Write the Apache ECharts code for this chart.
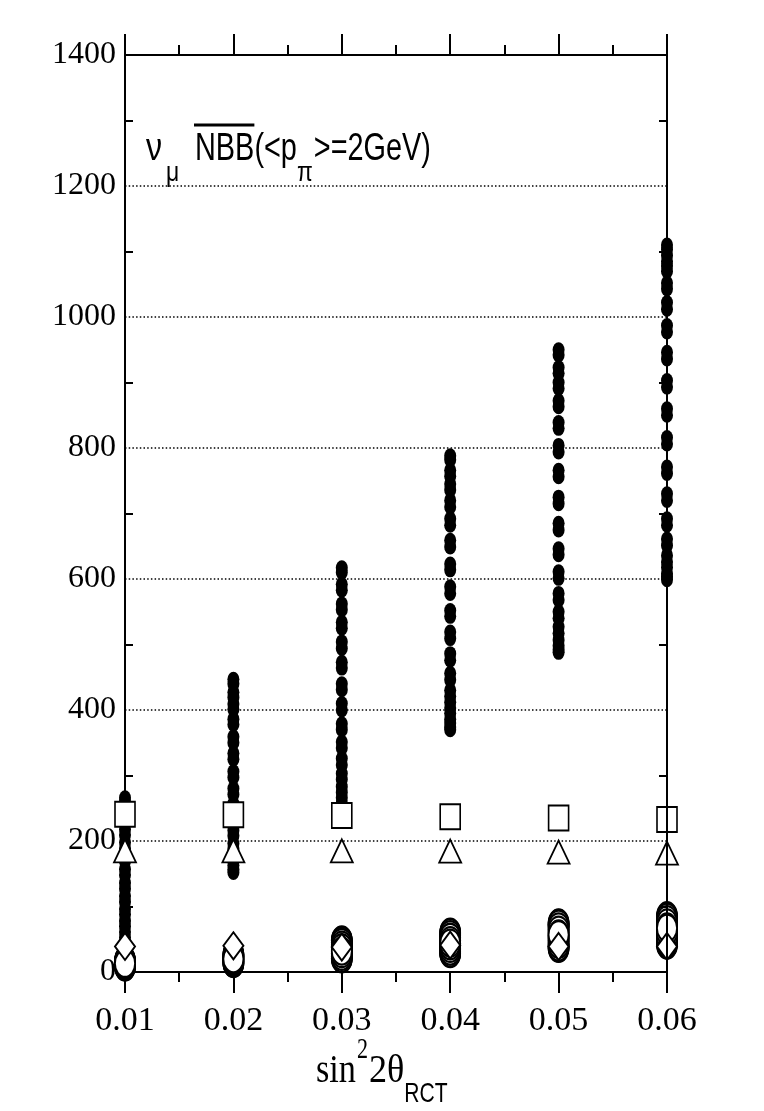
<!DOCTYPE html>
<html><head><meta charset="utf-8">
<script src="https://cdn.jsdelivr.net/npm/echarts@6/dist/echarts.min.js"></script>
<style>html,body{margin:0;padding:0;background:#fff}#c{width:764px;height:1111px}</style>
</head><body><div id="c"></div>
<script>
// ---- data ----
const xValues = [0.01, 0.02, 0.03, 0.04, 0.05, 0.06];
const yTickValues = [0, 200, 400, 600, 800, 1000, 1200, 1400];

// filled black dots, one list per sin^2 2theta column
const filled001 = [266, 260, 252, 245, 236, 228, 218, 209, 198, 189, 178, 169, 157, 148, 136, 127, 116, 107, 96, 88, 78, 70, 61, 53, 45, 38, 31, 25, 20, 15, 11, 8, 6, 5];
const filled002 = [447, 440, 427, 419, 409, 401, 386, 378, 359, 350, 334, 325, 306, 297, 280, 271, 257, 248, 236, 228, 216, 208, 196, 188, 177, 170, 163, 157, 152];
const filled003 = [617, 610, 592, 583, 562, 553, 534, 525, 504, 494, 473, 464, 440, 431, 410, 400, 379, 370, 351, 342, 326, 316, 303, 294, 283, 274, 266, 258, 254, 250];
const filled004 = [788, 782, 766, 757, 745, 736, 720, 710, 692, 682, 659, 649, 623, 614, 588, 578, 552, 543, 519, 509, 486, 476, 456, 446, 430, 421, 412, 403, 395, 386, 380, 374, 370];
const filled005 = [950, 942, 923, 914, 900, 891, 872, 863, 839, 830, 804, 794, 766, 756, 725, 715, 685, 675, 646, 637, 611, 601, 578, 568, 550, 540, 527, 517, 507, 498, 492, 488];
const filled006 = [1110, 1103, 1094, 1085, 1078, 1070, 1052, 1043, 1022, 1012, 987, 977, 946, 936, 903, 893, 860, 850, 816, 806, 771, 761, 730, 720, 692, 682, 661, 651, 636, 626, 618, 608, 604, 599];

// open circles (stacked), in scan order
const open001 = [13, 14, 16, 17, 18, 18, 17, 15, 13, 11, 9, 8, 8, 9, 10, 12, 13];
const open002 = [20, 22, 24, 26, 27, 27, 25, 23, 20, 17, 15, 13, 13, 14, 16, 18, 20];
const open003 = [34, 38, 42, 45, 48, 49, 48, 45, 41, 37, 32, 28, 24, 21, 20, 21, 24, 28, 32];
const open004 = [44, 48, 52, 56, 59, 61, 60, 57, 53, 48, 43, 38, 34, 31, 29, 28, 29, 32, 36, 40, 44];
const open005 = [55, 60, 65, 69, 72, 74, 75, 73, 69, 64, 58, 52, 47, 42, 39, 37, 36, 38, 42, 47, 52, 57];
const open006 = [63, 68, 73, 78, 82, 85, 86, 84, 80, 75, 69, 62, 56, 50, 46, 43, 41, 42, 45, 50, 55, 61, 67];

// single markers per column
const squares = [241, 240, 239, 237, 235, 233];
const triangles = [185, 185, 185, 184.5, 183, 181.5];
const diamonds = [39, 40, 38, 41, 39, 39];

// ---- build ----
function columns(cols) {
  const out = [];
  cols.forEach((col, i) => col.forEach(v => out.push([xValues[i], v])));
  return out;
}
const filledData = columns([filled001, filled002, filled003, filled004, filled005, filled006]);
const openData = columns([open001, open002, open003, open004, open005, open006]);
const pair = arr => arr.map((v, i) => [xValues[i], v]);

const chart = echarts.init(document.getElementById('c'), null, {renderer: 'canvas'});

const axisLineStyle = {color: '#000', width: 2};
const xTick = {show: true, inside: false, length: 21, lineStyle: {color: '#000', width: 2}};
const xMinor = {show: true, splitNumber: 2, length: 10, lineStyle: {color: '#000', width: 2}};
const yMinor = {show: true, splitNumber: 2, length: 8, lineStyle: {color: '#000', width: 2}};

const mctx = document.createElement('canvas').getContext('2d');
function tw(text, size, family, sx) {
  mctx.font = size + 'px ' + family;
  return mctx.measureText(text).width * sx;
}
const SANS = '"Liberation Sans"';
const SERIF = '"Liberation Serif"';
function txt(text, x, y, size, family, sx, sy) {
  return {
    type: 'text', x: x, y: y, scaleX: sx, scaleY: sy || 1, silent: true, z: 20,
    style: {text: text, fontSize: size, fontFamily: family, fill: '#000',
      align: 'left', verticalAlign: 'middle', textAlign: 'left', textVerticalAlign: 'middle'}
  };
}

// title: nu_mu  NBB-bar(<p_pi>=2GeV)
const TS = 38, TSX = 0.76, SS = 27, SSX = 0.85;
const g = [];
g.push(txt('ν', 146, 150, TS, SANS, 0.85));
g.push(txt('μ', 166, 174, SS, SANS, SSX));
let tx = 195;
g.push(txt('NBB(<p', tx, 150, TS, SANS, TSX));
const nbbW = tw('NBB', TS, SANS, TSX);
g.push({type: 'line', silent: true, z: 20, shape: {x1: tx - 1, y1: 125, x2: tx + nbbW, y2: 125}, style: {stroke: '#000', lineWidth: 3}});
tx += tw('NBB(<p', TS, SANS, TSX);
g.push(txt('π', tx, 174, SS, SANS, SSX));
tx += tw('π', SS, SANS, SSX) + 1;
g.push(txt('>=2GeV)', tx, 150, TS, SANS, TSX));

// x axis title: sin^2 2theta_RCT
let ax = 316;
const AS = 38;
g.push(txt('sin', ax, 1072, AS, SERIF, 0.9, 1.05));
ax += tw('sin', AS, SERIF, 0.9) + 1;
g.push(txt('2', ax, 1050, 26, SERIF, 0.85, 1.1));
ax += tw('2', 26, SERIF, 0.85) + 1;
g.push(txt('2θ', ax, 1072, AS, SERIF, 0.95, 1.05));
ax += tw('2θ', AS, SERIF, 0.95);
g.push(txt('RCT', ax, 1094, 27, SANS, 0.78, 1.05));

const option = {
  animation: false,
  backgroundColor: '#fff',
  grid: {left: 125, right: 97, top: 55, bottom: 139, containLabel: false},
  xAxis: [
    {type: 'value', position: 'bottom', min: 0.01, max: 0.06, interval: 0.01,
      axisLine: {show: true, onZero: false, lineStyle: axisLineStyle},
      axisTick: xTick, minorTick: xMinor,
      axisLabel: {show: true, margin: 32, fontSize: 34, fontFamily: SERIF, color: '#000',
        formatter: v => Number(v).toFixed(2)},
      splitLine: {show: false}},
    {type: 'value', position: 'top', min: 0.01, max: 0.06, interval: 0.01,
      axisLine: {show: true, onZero: false, lineStyle: axisLineStyle},
      axisTick: xTick, minorTick: xMinor,
      axisLabel: {show: false}, splitLine: {show: false}}
  ],
  yAxis: [
    {type: 'value', position: 'left', min: 0, max: 1400, interval: 200,
      axisLine: {show: true, onZero: false, lineStyle: axisLineStyle},
      axisTick: {show: false, inside: true}, minorTick: yMinor,
      axisLabel: {show: true, margin: 9, fontSize: 32, fontFamily: SERIF, color: '#000',
        formatter: v => (yTickValues.indexOf(v) >= 0 ? String(v) : '')},
      splitLine: {show: true, lineStyle: {color: '#000', width: 1.5, type: [1.5, 2.2]}}},
    {type: 'value', position: 'right', min: 0, max: 1400, interval: 200, z: 10,
      axisLine: {show: true, onZero: false, lineStyle: axisLineStyle},
      axisTick: {show: false, inside: true}, minorTick: yMinor,
      axisLabel: {show: false}, splitLine: {show: false}}
  ],
  series: [
    {type: 'scatter', name: 'filled', data: filledData, clip: false, silent: true,
      symbol: 'circle', symbolSize: [12, 15], itemStyle: {color: '#000', opacity: 1}},
    {type: 'scatter', name: 'square', data: pair(squares), clip: false, silent: true,
      symbol: 'rect', symbolSize: [20, 25], itemStyle: {color: '#fff', borderColor: '#000', borderWidth: 1.8, opacity: 1}},
    {type: 'scatter', name: 'triangle', data: pair(triangles), clip: false, silent: true,
      symbol: 'triangle', symbolSize: [22, 23], itemStyle: {color: '#fff', borderColor: '#000', borderWidth: 1.8, opacity: 1}},
    {type: 'scatter', name: 'circle', data: openData, clip: false, silent: true,
      symbol: 'circle', symbolSize: [20, 27], itemStyle: {color: '#fff', borderColor: '#000', borderWidth: 2, opacity: 1}},
    {type: 'scatter', name: 'diamond', data: pair(diamonds), clip: false, silent: true,
      symbol: 'diamond', symbolSize: [20, 27], itemStyle: {color: '#fff', borderColor: '#000', borderWidth: 2, opacity: 1}}
  ],
  graphic: g
};
chart.setOption(option);
</script>
</body></html>
